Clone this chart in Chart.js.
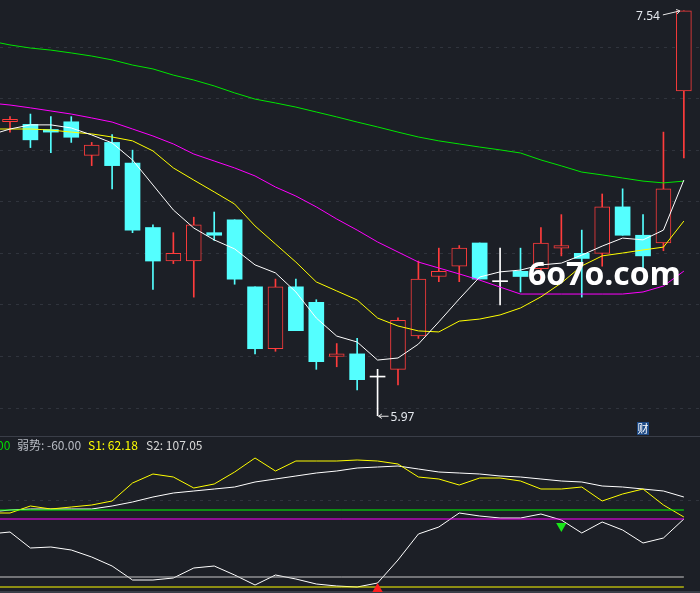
<!DOCTYPE html>
<html>
<head>
<meta charset="utf-8">
<script src="https://cdn.jsdelivr.net/npm/chart.js@4"></script>
<style>
  body { margin: 0; background: #1c1f26; }
  #wrap { position: relative; width: 700px; height: 593px; overflow: hidden; font-family: "Noto Sans CJK SC", "Noto Sans", sans-serif; }
  #main { position: absolute; left: 0; top: 0; }
  #sub { position: absolute; left: 0; top: 436px; }
  .t { position: absolute; top: 438px; font-size: 12px; line-height: 14px; white-space: nowrap; }
  #mark { position: absolute; left: 528px; top: 257px; font: bold 32px "Open Sans", sans-serif; line-height: 32px; color: #fff; white-space: nowrap; }
  #cai { position: absolute; left: 637px; top: 422px; width: 12px; height: 13px; background: #1d4a86; color: #fff; font-size: 11px; line-height: 13px; text-align: center; }
</style>
</head>
<body>
<div id="wrap">
  <canvas id="main" width="700" height="436"></canvas>
  <canvas id="sub" width="700" height="157"></canvas>
  <span class="t" style="left:-3px;color:#00dd00">00</span>
  <span class="t" style="left:17px;color:#b8bcc4">弱势: -60.00</span>
  <span class="t" style="left:88px;color:#ffff00">S1: 62.18</span>
  <span class="t" style="left:146px;color:#d8d8d8">S2: 107.05</span>
  <div id="mark">6o7o.com</div>
  <div id="cai">财</div>
</div>
<script>
  // daily candles
  const open  = [7.11, 7.10, 7.08, 7.11, 6.98, 7.03, 6.95, 6.70, 6.57, 6.57, 6.68, 6.73, 6.47, 6.23, 6.47, 6.41, 6.20,
                 6.21, 6.12, 6.15, 6.28, 6.51, 6.55, 6.64, 6.49, 6.53, 6.54, 6.62, 6.60, 6.60, 6.78, 6.67, 6.64, 7.23];
  const high  = [7.13, 7.14, 7.13, 7.13, 7.03, 7.06, 7.00, 6.71, 6.68, 6.74, 6.76, 6.73, 6.47, 6.50, 6.50, 6.42, 6.25,
                 6.27, 6.15, 6.35, 6.57, 6.62, 6.63, 6.64, 6.62, 6.62, 6.70, 6.75, 6.69, 6.83, 6.85, 6.75, 7.07, 7.54];
  const low   = [7.07, 7.01, 6.99, 7.03, 6.94, 6.85, 6.68, 6.46, 6.56, 6.43, 6.65, 6.48, 6.21, 6.22, 6.30, 6.15, 6.16,
                 6.07, 5.97, 6.09, 6.27, 6.49, 6.49, 6.50, 6.40, 6.45, 6.50, 6.59, 6.43, 6.55, 6.67, 6.54, 6.61, 6.97];
  const close = [7.12, 7.04, 7.07, 7.05, 7.02, 6.94, 6.69, 6.57, 6.60, 6.71, 6.67, 6.50, 6.23, 6.47, 6.30, 6.18, 6.21,
                 6.11, 6.12, 6.34, 6.50, 6.53, 6.62, 6.50, 6.49, 6.51, 6.64, 6.63, 6.58, 6.78, 6.67, 6.59, 6.85, 7.54];

  // moving averages, first value sits on the left edge of the window
  const ma5  = [7.070, 7.082, 7.098, 7.098, 7.086, 7.059, 7.028, 6.962, 6.865, 6.768, 6.698, 6.652, 6.617, 6.555, 6.524,
                6.450, 6.349, 6.279, 6.256, 6.186, 6.194, 6.248, 6.334, 6.423, 6.508, 6.528, 6.535, 6.555, 6.562, 6.593,
                6.628, 6.659, 6.652, 6.690, 6.884];
  const ma10 = [7.082, 7.082, 7.082, 7.078, 7.070, 7.063, 7.051, 7.036, 6.997, 6.931, 6.884, 6.838, 6.791, 6.706, 6.636,
                6.566, 6.489, 6.454, 6.419, 6.349, 6.318, 6.299, 6.295, 6.337, 6.345, 6.361, 6.388, 6.431, 6.485, 6.551,
                6.590, 6.601, 6.613, 6.624, 6.725];
  const ma20 = [7.179, 7.175, 7.164, 7.152, 7.140, 7.125, 7.109, 7.082, 7.055, 7.024, 6.985, 6.958, 6.931, 6.900, 6.857,
                6.822, 6.780, 6.733, 6.690, 6.644, 6.605, 6.566, 6.543, 6.520, 6.496, 6.469, 6.442, 6.442, 6.442, 6.442,
                6.442, 6.442, 6.450, 6.473, 6.531];
  const ma60 = [7.416, 7.408, 7.396, 7.388, 7.377, 7.365, 7.350, 7.330, 7.315, 7.291, 7.272, 7.249, 7.222, 7.198, 7.183,
                7.167, 7.148, 7.129, 7.109, 7.090, 7.070, 7.051, 7.036, 7.024, 7.012, 7.001, 6.989, 6.962, 6.939, 6.915,
                6.904, 6.892, 6.880, 6.873, 6.880];
  const gridPrices = [6.0, 6.2, 6.4, 6.6, 6.8, 7.0, 7.2, 7.4];

  // lower indicator panel
  const s2Line  = [8, 9, 10, 10, 10, 10, 13, 17, 22, 26, 28, 30, 32, 37, 40, 43, 46, 48, 51, 52, 53, 50, 47, 46, 45,
                   43, 42, 40, 38, 37, 33, 32, 30, 28, 22];
  const s1Line  = [6, 6, 13, 10, 12, 14, 18, 36, 45, 42, 31, 35, 47, 61, 48, 58, 58, 58, 59, 58, 55, 42, 40, 34, 41,
                   41, 38, 30, 30, 32, 18, 25, 30, 14, 2];
  const oscLine = [-14, -13, -29, -28, -31, -38, -47, -61, -61, -59, -49, -47, -56, -66, -56, -60, -65, -67, -68, -64,
                   -41, -15, -8, 6, 3, 1, 1, 5, -1, -14, -3, -11, -24, -19, 0];
  const levelValues = [9, 0, -58, -68];
  const levelColors = ['#00ff00', '#ff00ff', '#c8c8c8', '#ffff00'];
  const buySignals  = [{ x: 18, y: -70 }];
  const sellSignals = [{ x: 27, y: -7 }];

  const BG = '#1c1f26', RED = '#ff3c3c', CYAN = '#54ffff', GRID = '#30343d';
  const days = open.map((_, i) => i);
  const edgeX = [-0.5].concat(days);
  const pts = arr => arr.map((v, k) => ({ x: edgeX[k], y: v }));
  const dir = days.map(i => close[i] > open[i] ? 1 : close[i] < open[i] ? -1 : 0);
  const candleCol = days.map(i => dir[i] > 0 ? RED : dir[i] < 0 ? CYAN : '#ffffff');

  const xScale = { type: 'linear', min: -0.49, max: 33.79, offset: false, display: false };

  const maLine = (data, color) => ({
    type: 'line', data: pts(data), borderColor: color, borderWidth: 1,
    pointRadius: 0, tension: 0, order: 0
  });

  // high / low price tags with small arrows
  function arrow(ctx, x0, y0, x1, y1) {
    const a = Math.atan2(y1 - y0, x1 - x0);
    ctx.beginPath();
    ctx.moveTo(x0, y0); ctx.lineTo(x1, y1);
    ctx.moveTo(x1 - 4 * Math.cos(a - 0.6), y1 - 4 * Math.sin(a - 0.6)); ctx.lineTo(x1, y1);
    ctx.lineTo(x1 - 4 * Math.cos(a + 0.6), y1 - 4 * Math.sin(a + 0.6));
    ctx.stroke();
  }
  const extremeTags = {
    id: 'extremeTags',
    afterDatasetsDraw(chart) {
      const { ctx, scales: { x, y } } = chart;
      const hi = Math.max(...high), hiAt = high.indexOf(hi);
      const lo = Math.min(...low), loAt = low.indexOf(lo);
      ctx.save();
      ctx.strokeStyle = '#e8e8e8'; ctx.fillStyle = '#e4e8ee'; ctx.lineWidth = 1;
      ctx.font = '12px "Noto Sans", sans-serif';
      ctx.textBaseline = 'middle';
      const hx = x.getPixelForValue(hiAt) - 4, hy = y.getPixelForValue(hi);
      arrow(ctx, hx - 17, hy + 4, hx, hy);
      ctx.textAlign = 'right';
      ctx.fillText(hi.toFixed(2), hx - 20, hy + 6);
      const lx = x.getPixelForValue(loAt) + 1, ly = y.getPixelForValue(lo) + 0.5;
      arrow(ctx, lx + 10, ly, lx, ly);
      ctx.textAlign = 'left';
      ctx.fillText(lo.toFixed(2), lx + 12, ly + 1);
      ctx.restore();
    }
  };

  new Chart(document.getElementById('main'), {
    type: 'bar',
    data: {
      datasets: [
        maLine(ma5, '#ffffff'),
        maLine(ma10, '#ffff00'),
        maLine(ma20, '#ff00ff'),
        maLine(ma60, '#00e600'),
        {
          data: days.map(i => ({ x: i, y: [open[i], close[i]] })),
          backgroundColor: days.map(i => dir[i] > 0 ? BG : candleCol[i]),
          borderColor: candleCol,
          borderWidth: days.map(i => dir[i] > 0 ? 1 : 0),
          borderSkipped: false, barThickness: 15, minBarLength: 1, grouped: false, order: 1
        },
        {
          data: days.map(i => ({ x: i, y: [low[i], high[i]] })),
          backgroundColor: candleCol,
          borderWidth: 0, barThickness: 1, grouped: false, order: 2
        }
      ]
    },
    options: {
      responsive: false, animation: false,
      layout: { padding: 0, autoPadding: false },
      plugins: { legend: { display: false }, tooltip: { enabled: false } },
      scales: {
        x: xScale,
        y: {
          min: 5.8915, max: 7.5823,
          afterFit(s) { s.width = 0; },
          afterBuildTicks(s) { s.ticks = gridPrices.map(v => ({ value: v })); },
          ticks: { display: false },
          grid: { color: GRID, drawTicks: false },
          border: { display: false, dash: [3, 5] }
        }
      }
    },
    plugins: [extremeTags]
  });

  const panelFrame = {
    id: 'panelFrame',
    beforeDraw(chart) {
      const { ctx, width, height } = chart;
      ctx.save();
      ctx.fillStyle = '#3a3e48';
      ctx.fillRect(0, 0, width, 1);
      ctx.fillRect(0, height - 2, width, 2);
      ctx.restore();
    }
  };

  const flat = (v, color) => ({
    data: [{ x: -0.5, y: v }, { x: 33, y: v }], borderColor: color, borderWidth: 1,
    pointRadius: 0, order: 0
  });

  new Chart(document.getElementById('sub'), {
    type: 'line',
    data: {
      datasets: [
        { data: buySignals, showLine: false, pointStyle: 'triangle', pointRadius: 6,
          backgroundColor: '#ff1e1e', borderWidth: 0, order: -1 },
        { data: sellSignals, showLine: false, pointStyle: 'triangle', pointRotation: 180, pointRadius: 6,
          backgroundColor: '#19e619', borderWidth: 0, order: -1 },
        ...levelValues.map((v, k) => flat(v, levelColors[k])),
        { data: pts(s1Line), borderColor: '#ffff00', borderWidth: 1, pointRadius: 0, tension: 0, order: 1 },
        { data: pts(s2Line), borderColor: '#ffffff', borderWidth: 1, pointRadius: 0, tension: 0, order: 1 },
        { data: pts(oscLine), borderColor: '#ffffff', borderWidth: 1, pointRadius: 0, tension: 0, order: 1 }
      ]
    },
    options: {
      responsive: false, animation: false,
      layout: { padding: 0, autoPadding: false },
      plugins: { legend: { display: false }, tooltip: { enabled: false } },
      scales: {
        x: xScale,
        y: {
          min: -74, max: 83,
          afterFit(s) { s.width = 0; },
          afterBuildTicks(s) { s.ticks = [{ value: 19 }]; },
          ticks: { display: false },
          grid: { color: GRID, drawTicks: false },
          border: { display: false, dash: [3, 5] }
        }
      }
    },
    plugins: [panelFrame]
  });
</script>
</body>
</html>
